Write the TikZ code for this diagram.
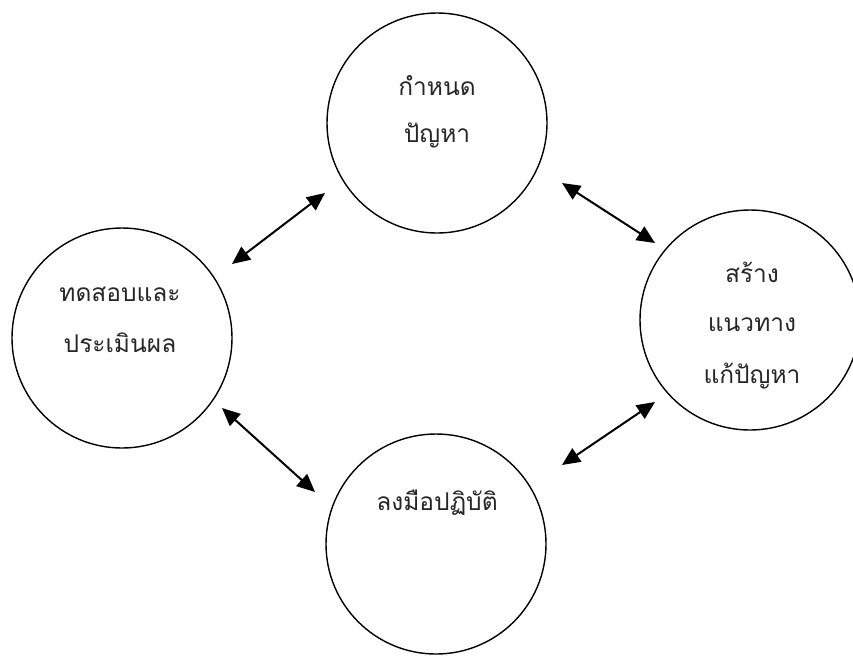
\documentclass[tikz,border=0pt]{standalone}
\usepackage{fontspec}
\newfontfamily\thaifont[Script=Thai]{Loma}
\usetikzlibrary{arrows.meta}
\begin{document}
\begin{tikzpicture}[x=1pt,y=-1pt,
  stage/.style={draw,circle,line width=1.4pt,minimum size=220pt,inner sep=0pt},
  lbl/.style={font=\thaifont\fontsize{24.5}{24.5}\selectfont,anchor=center,inner sep=0pt,text=black!85},
  link/.style={line width=2pt,{Triangle[length=18pt,width=16pt]}-{Triangle[length=18pt,width=16pt]}}]
\useasboundingbox (0,0) rectangle (853,657);
\node[stage] (top) at (437,123) {};
\node[stage] (right) at (750,320) {};
\node[stage] (left) at (122,338) {};
\node[stage] (bottom) at (436,544) {};
\node[lbl] (t1) at (437,86) {กำหนด};
\node[lbl] (t2) at (437,135) {ปัญหา};
\node[lbl] (r1) at (752,272) {สร้าง};
\node[lbl] (r2) at (752,325) {แนวทาง};
\node[lbl] (r3) at (752,376) {แก้ปัญหา};
\node[lbl] (l1) at (120,294) {ทดสอบและ};
\node[lbl] (l2) at (120,343) {ประเมินผล};
\node[lbl] (b1) at (437,503) {ลงมือปฏิบัติ};
\coordinate (a1s) at (232,264);
\coordinate (a1e) at (325,193);
\coordinate (a2s) at (562,183);
\coordinate (a2e) at (655,243);
\coordinate (a3s) at (562,465);
\coordinate (a3e) at (655,402);
\coordinate (a4s) at (222,408);
\coordinate (a4e) at (315,492);
\draw[link] (a1s) -- (a1e);
\draw[link] (a2s) -- (a2e);
\draw[link] (a3s) -- (a3e);
\draw[link] (a4s) -- (a4e);
\end{tikzpicture}
\end{document}
